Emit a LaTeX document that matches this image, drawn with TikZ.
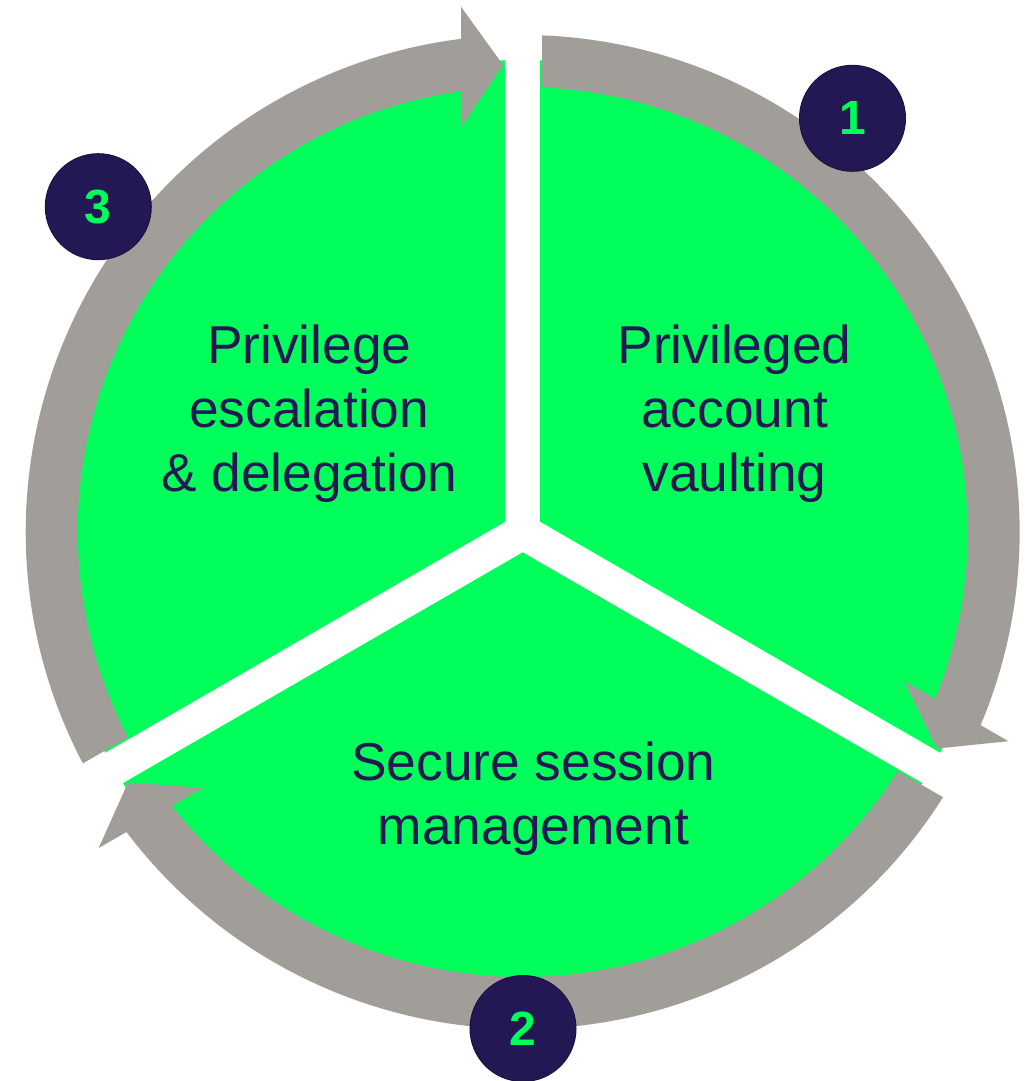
\documentclass[tikz,border=0pt]{standalone}
\usepackage{fontspec}
\setmainfont{Liberation Sans}
\definecolor{cgreen}{RGB}{0,255,90}
\definecolor{cgray}{RGB}{161,158,154}
\definecolor{cnavy}{RGB}{36,24,84}
\definecolor{cnavyedge}{RGB}{28,18,66}
\begin{document}
\begin{tikzpicture}[x=1pt,y=1pt,
  greendisc/.style={fill=cgreen},
  gapline/.style={draw=white,line width=35pt},
  ringarrow/.style={fill=cgray},
  numbadge/.style={circle,fill=cnavy,draw=cnavyedge,line width=1pt,minimum size=106pt,inner sep=0pt,text=cgreen,font=\fontsize{48}{50}\selectfont\bfseries},
  segtext/.style={text=cnavy,font=\fontsize{53.3}{64}\selectfont,anchor=base,inner sep=0pt}]
\useasboundingbox (-522.7,-549) rectangle (512.3,532);
\coordinate (O) at (0,0);
% green disc split in three sectors
\fill[greendisc] (O) circle[radius=472];
\foreach \a in {90,-30,210} \draw[gapline] (O) -- (\a:520);
% three circular arrows
\foreach \r in {0,-120,120} {
  \begin{scope}[rotate=\r]
    \fill[ringarrow] (207.751:497) arc[start angle=207.751,end angle=97.131,radius=497]
      -- (-61.7,525.3) -- (-19.6,467) -- (-61.7,404.7) -- (-61.7,440.7)
      arc[start angle=97.970,end angle=207.488,radius=445] -- cycle;
  \end{scope}
}
% number badges
\node[numbadge] (n1) at (329.8,413.7) {1};
\node[numbadge] (n2) at (0.3,-496.5) {2};
\node[numbadge] (n3) at (-424.4,325.3) {3};
% sector texts
\node[segtext] (t1a) at (211.8,168) {Privileged};
\node[segtext] (t1b) at (211.8,104) {account};
\node[segtext] (t1c) at (211.8,40) {vaulting};
\node[segtext] (t2a) at (10.8,-248) {Secure session};
\node[segtext] (t2b) at (10.8,-312) {management};
\node[segtext] (t3a) at (-213.4,168) {Privilege};
\node[segtext] (t3b) at (-213.4,104) {escalation};
\node[segtext] (t3c) at (-213.4,40) {\& delegation};
\end{tikzpicture}
\end{document}
